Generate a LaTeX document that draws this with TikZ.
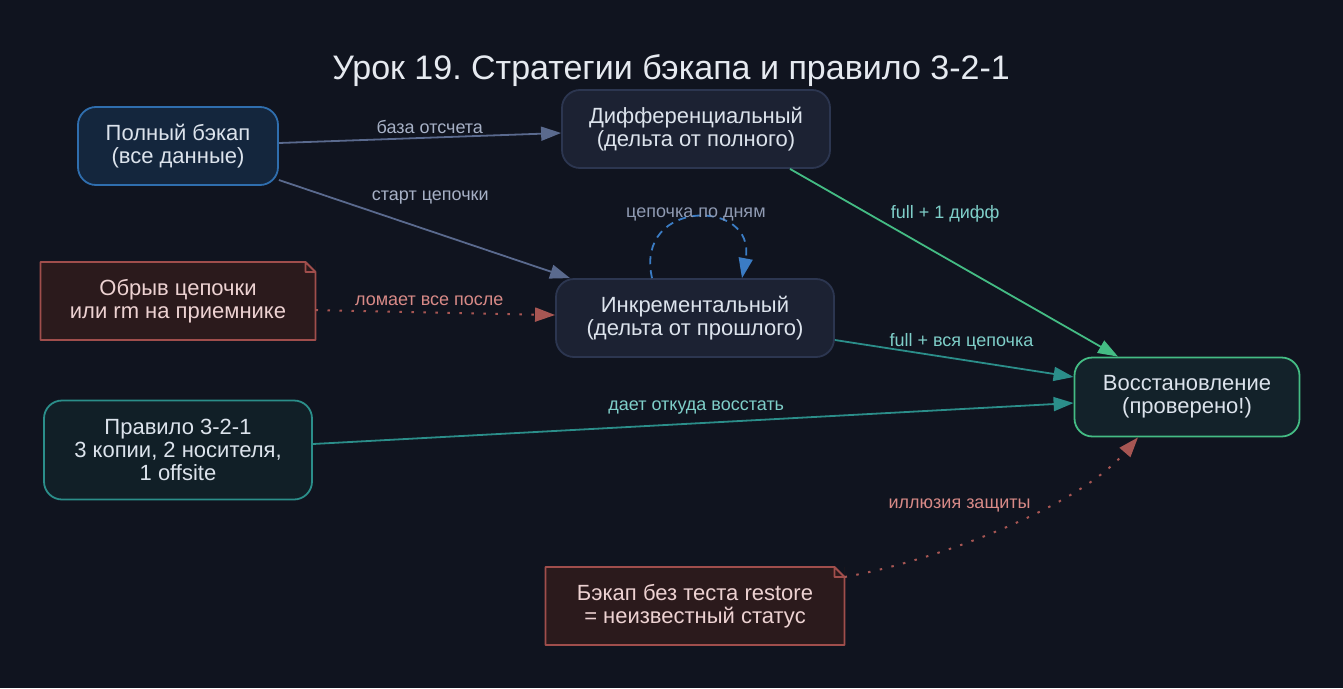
\documentclass[tikz,border=0pt]{standalone}
\usepackage{fontspec}
\setmainfont{Liberation Sans}
\frenchspacing
\definecolor{bg}{HTML}{10141F}
\definecolor{titletext}{HTML}{E6EAF0}
\definecolor{nodetext}{HTML}{DCE3EC}
\definecolor{fullfill}{HTML}{14263D}
\definecolor{fullline}{HTML}{2F6EAE}
\definecolor{grayfill}{HTML}{1C2233}
\definecolor{grayline}{HTML}{2C3650}
\definecolor{greenfill}{HTML}{13222A}
\definecolor{greenline}{HTML}{44BC84}
\definecolor{tealfill}{HTML}{111F27}
\definecolor{tealline}{HTML}{2B8E8A}
\definecolor{notefill}{HTML}{2B1A1C}
\definecolor{noteline}{HTML}{A04E4C}
\definecolor{notetext}{HTML}{EDD2D2}
\definecolor{slate}{HTML}{5A6A8E}
\definecolor{slatetext}{HTML}{A7B1C6}
\definecolor{tealtext}{HTML}{7FCFC9}
\definecolor{redline}{HTML}{A75653}
\definecolor{redtext}{HTML}{D88A87}
\definecolor{loopline}{HTML}{3B7CC4}
\definecolor{looptext}{HTML}{8F9AB2}
\usetikzlibrary{arrows.meta}

\begin{document}
\begin{tikzpicture}[x=1pt,y=-1pt,>={Triangle[length=20pt,width=14pt]},
  every node/.style={font=\fontsize{22}{23}\selectfont,align=center},
  box/.style={rounded corners=18pt,line width=1.8pt,minimum height=78pt,inner sep=0pt,text=nodetext},
  note/.style={rectangle,fill=notefill,text=notetext,minimum height=78pt,inner sep=0pt,outer sep=0pt},
  lbl/.style={font=\fontsize{18}{20}\selectfont,inner sep=1pt},
  edge/.style={->,line width=1.8pt},
  dots/.style={->,line width=2pt,redline,dash pattern=on 2.5pt off 9.5pt}]
\fill[bg] (0,0) rectangle (1343,688);
\useasboundingbox (0,0) rectangle (1343,688);
\node[font=\fontsize{34}{36}\selectfont,text=titletext] (title) at (671,71) {Урок 19. Стратегии бэкапа и правило 3-2-1};
\node[box,draw=fullline,fill=fullfill,minimum width=200pt] (full) at (178,146) {Полный бэкап\\(все данные)};
\node[box,draw=grayline,fill=grayfill,minimum width=268pt] (diff) at (696,129) {Дифференциальный\\(дельта от полного)};
\node[box,draw=grayline,fill=grayfill,minimum width=278pt] (inc) at (695,318) {Инкрементальный\\(дельта от прошлого)};
\node[box,draw=greenline,fill=greenfill,minimum width=225pt,minimum height=79pt] (restore) at (1187,397) {Восстановление\\(проверено!)};
\node[box,draw=tealline,fill=tealfill,minimum width=268pt,minimum height=99pt] (rule) at (178,450) {Правило 3-2-1\\3 копии, 2 носителя,\\1 offsite};
\node[note,minimum width=275pt] (break) at (178,301) {Обрыв цепочки\\или rm на приемнике};
\node[note,minimum width=299pt] (test) at (695,606) {Бэкап без теста restore\\= неизвестный статус};
% note outlines with folded corner
\foreach \n in {break,test} {
  \fill[bg] ([xshift=-10pt]\n.north east) -- (\n.north east) -- ([yshift=-10pt]\n.north east) -- cycle;
  \draw[noteline,line width=1.8pt,line join=round] (\n.north west) -- ([xshift=-10pt]\n.north east) -- ([yshift=-10pt]\n.north east) -- (\n.south east) -- (\n.south west) -- cycle
    ([xshift=-10pt]\n.north east) -- ++(0pt,-10pt) -- ([yshift=-10pt]\n.north east);
}
% connectors
\draw[edge,slate] ([yshift=3pt]full.east) -- node[lbl,text=slatetext,pos=.535,yshift=11pt]{база отсчета} ([yshift=-4pt]diff.west);
\draw[edge,slate] ([yshift=-34pt]full.east) -- node[lbl,text=slatetext,pos=.52,yshift=33pt]{старт цепочки} ([xshift=-125pt]inc.north);
\draw[edge,loopline,dash pattern=on 8pt off 6pt] ([xshift=-43pt]inc.north) .. controls +(-18pt,80pt) and +(15pt,80pt) .. node[lbl,text=looptext,pos=.5,yshift=4pt]{цепочка по дням} ([xshift=47pt]inc.north);
\draw[dots] ([yshift=-9pt]break.east) -- node[lbl,text=redtext,pos=.475,yshift=12pt]{ломает все после} ([yshift=3pt]inc.west);
\draw[edge,greenline] ([xshift=94pt]diff.south) -- node[lbl,text=tealtext,pos=.473,yshift=44pt]{full + 1 дифф} ([xshift=-69pt]restore.north);
\draw[edge,tealline] ([yshift=-22pt]inc.east) -- node[lbl,text=tealtext,pos=.53,yshift=18pt]{full + вся цепочка} ([yshift=20pt]restore.west);
\draw[edge,tealline] ([yshift=6pt]rule.east) -- node[lbl,text=tealtext,pos=.504,yshift=16pt]{дает откуда восстать} ([yshift=-6pt]restore.west);
\draw[dots] ([yshift=29pt]test.east) .. controls (930,562) and (1075,510) .. node[lbl,text=redtext,pos=.4,xshift=-7pt,yshift=37pt]{иллюзия защиты} ([xshift=-49pt]restore.south);
\end{tikzpicture}
\end{document}
